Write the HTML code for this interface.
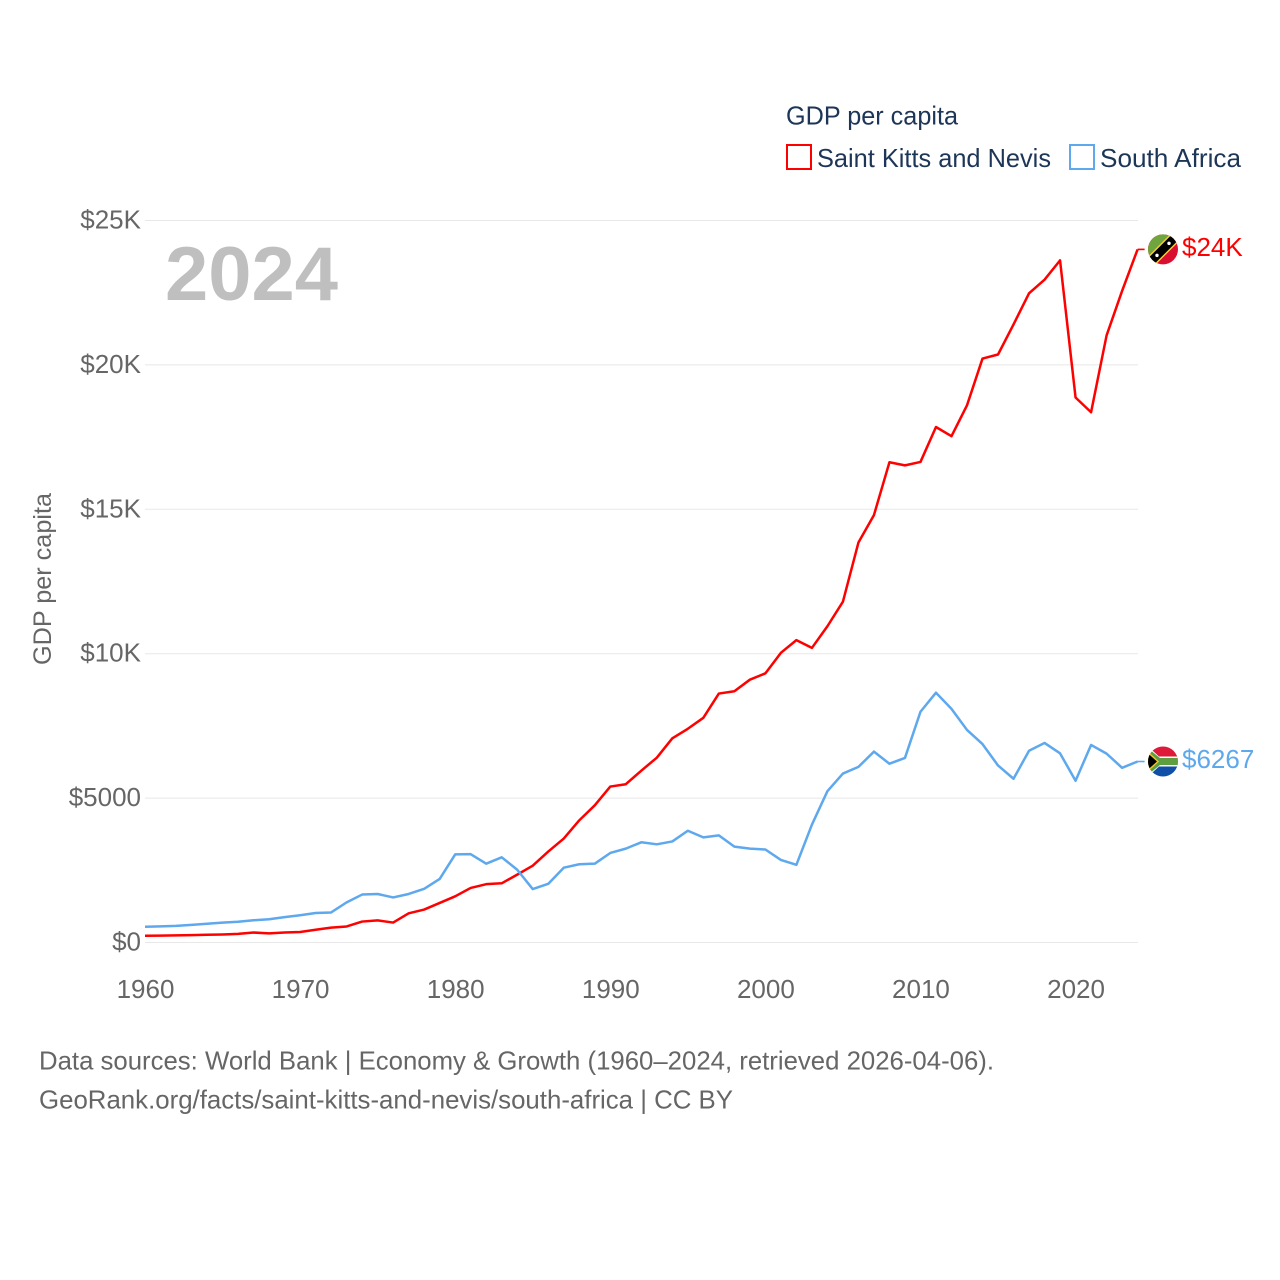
<!DOCTYPE html>
<html lang="en">
<head>
<meta charset="utf-8">
<title>GDP per capita: Saint Kitts and Nevis vs South Africa</title>
<style>
html,body{margin:0;padding:0;background:#fff;}
svg{display:block;font-family:"Liberation Sans",Arial,sans-serif;}
</style>
</head>
<body>
<svg id="chart" xmlns="http://www.w3.org/2000/svg" width="1280" height="1280" viewBox="0 0 1280 1280">
  <defs>
    <clipPath id="flag-clip"><circle cx="0" cy="0" r="15"></circle></clipPath>
  </defs>
  <rect width="1280" height="1280" fill="#ffffff"></rect>
  <g id="grid"></g>
  <g id="y-ticks"></g>
  <g id="x-ticks"></g>
  <text x="165" y="300" font-size="76" font-weight="700" fill="#bfbfbf" textLength="173" lengthAdjust="spacingAndGlyphs">2024</text>
  <text transform="translate(51,665) rotate(-90)" font-size="25" fill="#666666" textLength="172" lengthAdjust="spacingAndGlyphs">GDP per capita</text>

  <g>
    <text x="786" y="124.5" font-size="26" fill="#1d3557" textLength="172" lengthAdjust="spacingAndGlyphs">GDP per capita</text>
    <g>
      <rect x="787" y="145" width="24" height="24" fill="#ffffff" stroke="#ff0000" stroke-width="2"></rect>
      <text x="817" y="167" font-size="26" fill="#1d3557" textLength="234" lengthAdjust="spacingAndGlyphs">Saint Kitts and Nevis</text>
    </g>
    <g>
      <rect x="1070" y="145" width="24" height="24" fill="#ffffff" stroke="#5ea8ee" stroke-width="2"></rect>
      <text x="1100" y="167" font-size="26" fill="#1d3557" textLength="141" lengthAdjust="spacingAndGlyphs">South Africa</text>
    </g>
  </g>

  <polyline id="line-skn" fill="none" stroke="#ff0000" stroke-width="2.5" stroke-linejoin="round"></polyline>
  <polyline id="line-za" fill="none" stroke="#5ea8ee" stroke-width="2.5" stroke-linejoin="round"></polyline>
  <line id="conn-skn" stroke="#ff0000" stroke-width="1.6"></line>
  <line id="conn-za" stroke="#5ea8ee" stroke-width="1.6"></line>

  <g id="flag-skn">
    <g clip-path="url(#flag-clip)">
      <rect x="-16" y="-16" width="32" height="32" fill="#d90f32"></rect>
      <polygon points="-16,-16 16,-16 -16,16" fill="#6fa53c"></polygon>
      <polygon points="-16,8 8,-16 16,-16 16,-8 -8,16 -16,16" fill="#f4d13a"></polygon>
      <polygon points="-16,10 10,-16 16,-16 16,-10 -10,16 -16,16" fill="#000000"></polygon>
      <circle cx="-6" cy="6" r="1.7" fill="#ffffff"></circle>
      <circle cx="6" cy="-6" r="1.7" fill="#ffffff"></circle>
    </g>
  </g>
  <g id="flag-za">
    <g clip-path="url(#flag-clip)">
      <rect x="-16" y="-16" width="32" height="16" fill="#de1a38"></rect>
      <rect x="-16" y="0" width="32" height="16" fill="#0f4fa8"></rect>
      <polygon points="-16,-16 -4,-5 16,-5 16,5 -4,5 -16,16" fill="#ffffff"></polygon>
      <polygon points="-16,-14 -3,-3.5 16,-3.5 16,3.5 -3,3.5 -16,14" fill="#5f9e3f"></polygon>
      <polygon points="-16,-11 -4,0 -16,11" fill="#f4c430"></polygon>
      <polygon points="-16,-9 -6,0 -16,9" fill="#000000"></polygon>
    </g>
  </g>
  <text id="end-skn" x="1182" font-size="26" fill="#ff0000">$24K</text>
  <text id="end-za" x="1182" font-size="26" fill="#5ea8ee">$6267</text>

  <g>
    <text x="39" y="1069.5" font-size="26" fill="#666666" textLength="955" lengthAdjust="spacingAndGlyphs">Data sources: World Bank | Economy &amp; Growth (1960–2024, retrieved 2026-04-06).</text>
    <text x="39" y="1108.5" font-size="26" fill="#666666" textLength="694" lengthAdjust="spacingAndGlyphs">GeoRank.org/facts/saint-kitts-and-nevis/south-africa | CC BY</text>
  </g>
</svg>
<script>
const startYear = 1960;
const yTickValues = [0, 5000, 10000, 15000, 20000, 25000];
const yTickLabels = ["$0", "$5000", "$10K", "$15K", "$20K", "$25K"];
const xTickValues = [1960, 1970, 1980, 1990, 2000, 2010, 2020];
const xTickLabels = ["1960", "1970", "1980", "1990", "2000", "2010", "2020"];
const saintKittsValues = [235, 238, 245, 255, 268, 278, 300, 345, 315, 345, 365, 440, 515, 555, 725, 765, 690, 1010, 1140, 1370, 1600, 1890, 2020, 2050, 2350, 2660, 3150, 3600, 4230, 4750, 5400, 5480, 5950, 6400, 7070, 7400, 7780, 8620, 8700, 9100, 9320, 10030, 10470, 10200, 10950, 11800, 13850, 14800, 16630, 16520, 16640, 17850, 17530, 18600, 20220, 20360, 21400, 22480, 22950, 23620, 18870, 18360, 21020, 22560, 24000];
const southAfricaValues = [547, 560, 575, 610, 650, 690, 720, 770, 805, 880, 945, 1020, 1040, 1390, 1660, 1680, 1560, 1680, 1860, 2200, 3050, 3060, 2730, 2950, 2520, 1850, 2030, 2590, 2710, 2730, 3100, 3250, 3470, 3400, 3500, 3870, 3640, 3710, 3320, 3250, 3220, 2860, 2690, 4080, 5240, 5850, 6080, 6610, 6190, 6390, 7990, 8650, 8090, 7360, 6870, 6130, 5670, 6640, 6910, 6550, 5600, 6840, 6540, 6050, 6267];

const NS = "http://www.w3.org/2000/svg";
function xScale(year) { return 145 + (year - 1960) * (1137.6 - 145) / 64; }
function yScale(value) { return 942.5 - value * (942.5 - 220.5) / 25000; }
function pointsFor(values) {
  return values.map(function (v, i) { return xScale(startYear + i).toFixed(2) + "," + yScale(v).toFixed(2); }).join(" ");
}

const grid = document.getElementById("grid");
const yTicks = document.getElementById("y-ticks");
const xTicks = document.getElementById("x-ticks");

yTickValues.forEach(function (v, i) {
  const gl = document.createElementNS(NS, "line");
  
  
  gl.setAttribute("x1", 145);
  gl.setAttribute("x2", 1138);
  gl.setAttribute("y1", yScale(v));
  gl.setAttribute("y2", yScale(v));
  gl.setAttribute("stroke", "#e8e8e8");
  gl.setAttribute("stroke-width", "1");
  grid.appendChild(gl);

  const t = document.createElementNS(NS, "text");
  
  
  t.setAttribute("x", 141);
  t.setAttribute("y", yScale(v) + 8);
  t.setAttribute("text-anchor", "end");
  t.setAttribute("font-size", "26");
  t.setAttribute("fill", "#666666");
  t.textContent = yTickLabels[i];
  yTicks.appendChild(t);
});

xTickValues.forEach(function (yr, i) {
  const t = document.createElementNS(NS, "text");
  
  
  t.setAttribute("x", xScale(yr) + 0.5);
  t.setAttribute("y", 998);
  t.setAttribute("text-anchor", "middle");
  t.setAttribute("font-size", "26");
  t.setAttribute("fill", "#666666");
  t.textContent = xTickLabels[i];
  xTicks.appendChild(t);
});

document.getElementById("line-skn").setAttribute("points", pointsFor(saintKittsValues));
document.getElementById("line-za").setAttribute("points", pointsFor(southAfricaValues));

function placeEnd(values, connId, flagId, labelId) {
  const last = values[values.length - 1];
  const lastYear = startYear + values.length - 1;
  const px = xScale(lastYear);
  const py = yScale(last);
  const c = document.getElementById(connId);
  c.setAttribute("x1", px);
  c.setAttribute("x2", px + 7);
  c.setAttribute("y1", py);
  c.setAttribute("y2", py);
  document.getElementById(flagId).setAttribute("transform", "translate(" + (px + 25.4) + "," + py + ")");
  document.getElementById(labelId).setAttribute("y", py + 6.5);
}
placeEnd(saintKittsValues, "conn-skn", "flag-skn", "end-skn");
placeEnd(southAfricaValues, "conn-za", "flag-za", "end-za");
</script>
</body>
</html>
